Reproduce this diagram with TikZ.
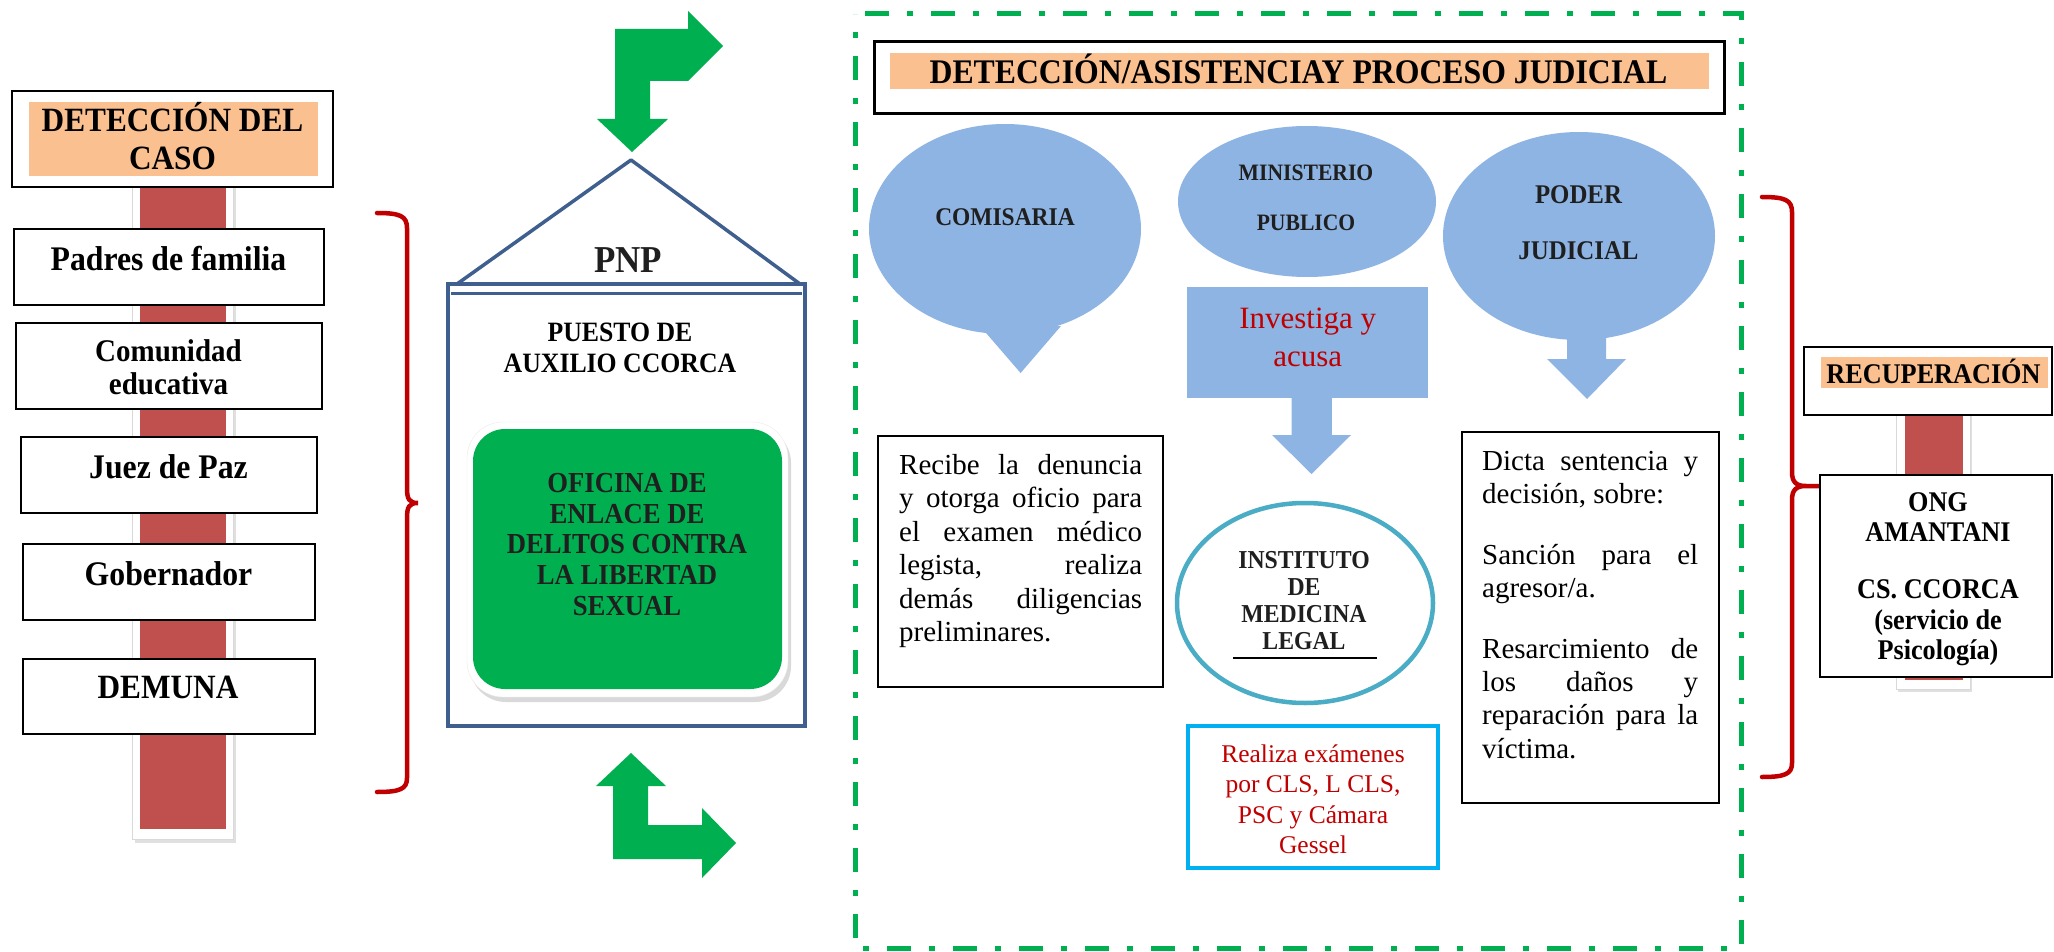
\documentclass[tikz,border=0pt]{standalone}
\usepackage{fontspec}
\setmainfont{Liberation Serif}[BoldFeatures={FakeStretch=0.92}]
\usetikzlibrary{shapes.geometric}
\definecolor{orangeT}{HTML}{FAC090}
\definecolor{barred}{HTML}{C0504D}
\definecolor{lblue}{HTML}{8EB4E3}
\definecolor{grn}{HTML}{00B050}
\definecolor{dred}{HTML}{C00000}
\definecolor{circblue}{HTML}{4BACC6}
\definecolor{cyanB}{HTML}{00B0F0}
\definecolor{housec}{HTML}{3F5F8F}
\newcommand\fs[2]{\fontsize{#1}{#2}\selectfont}
\newcommand\cbox[2]{\parbox[t]{#1}{\centering #2}}
\begin{document}
\begin{tikzpicture}[x=1pt,y=-1pt,
  txt/.style={inner sep=0pt, anchor=base},
  ltxt/.style={inner sep=0pt, anchor=base west},
  wbox/.style={draw=black, line width=2.5pt, fill=white, inner sep=0pt},
  obox/.style={fill=orangeT, inner sep=0pt},
  brace/.style={draw=dred, line width=4.5pt, line cap=round},
  garrow/.style={fill=grn},
  barw/.style={fill=white, draw=black!15, line width=1pt},
]
\useasboundingbox (0,0) rectangle (2054,952);
\fill[white] (0,0) rectangle (2054,952);

% ---------- left column ----------
\fill[black!12] (135,187) rectangle (236,843);
\draw[barw] (132,187) rectangle (233,839);
\fill[barred] (140,187) rectangle (226,829);

\node[wbox, minimum width=321pt, minimum height=96pt] (hdr) at (172.5,139) {};
\node[obox, minimum width=289pt, minimum height=74pt] (hdrbg) at (173.5,139) {};
\node[txt, font={\bfseries\fs{34}{37.5}}] (hdrt) at (172.5,132) {\cbox{320pt}{DETECCIÓN DEL\\CASO}};

\node[wbox, minimum width=310pt, minimum height=76pt] (padres) at (169,267) {};
\node[txt, font={\bfseries\fs{34.5}{38}}] (padrest) at (168.5,270.5) {Padres de familia};

\node[wbox, minimum width=306pt, minimum height=86pt] (comun) at (169,366) {};
\node[txt, font={\bfseries\fs{31.5}{33.4}}] (comunt) at (168.5,361) {\cbox{300pt}{Comunidad\\educativa}};

\node[wbox, minimum width=296pt, minimum height=76pt] (juez) at (169,475) {};
\node[txt, font={\bfseries\fs{34.5}{38}}] (juezt) at (168.5,478) {Juez de Paz};

\node[wbox, minimum width=292pt, minimum height=76pt] (gober) at (169,582) {};
\node[txt, font={\bfseries\fs{34.5}{38}}] (gobert) at (168.5,585) {Gobernador};

\node[wbox, minimum width=292pt, minimum height=75pt] (demuna) at (169,696.5) {};
\node[txt, font={\bfseries\fs{34}{38}}] (demunat) at (168,698) {DEMUNA};

\draw[brace] (377,213) .. controls (400,213) and (407,216) .. (407,228)
  -- (407,488) .. controls (407,499) and (409,503) .. (418,503)
  .. controls (409,503) and (407,507) .. (407,518)
  -- (407,778) .. controls (407,789) and (400,792) .. (377,792);

% ---------- middle (PNP) ----------
\fill[garrow] (615,29) -- (688,29) -- (688,11) -- (723,46) -- (688,81) -- (650,81)
  -- (650,119) -- (668,119) -- (632,152) -- (597,119) -- (615,119) -- cycle;

\draw[housec, line width=3.5pt, line join=round] (457,284) -- (631,160) -- (800,284);
\node[draw=housec, line width=3.5pt, minimum width=357pt, minimum height=442pt, inner sep=0pt] (house) at (626.5,505) {};
\draw[housec, line width=3pt] (451,293) -- (802,293);
\node[txt, font={\bfseries\fs{38}{40}}, text=black!88] (pnp) at (628,272.7) {PNP};
\node[txt, font={\bfseries\fs{28}{30.4}}] (puesto) at (620,341.6) {\cbox{330pt}{PUESTO DE\\AUXILIO CCORCA}};

\fill[black!15, rounded corners=36pt] (470,427) rectangle (791,702);
\draw[fill=white, draw=black!8, rounded corners=36pt] (467,422) rectangle (788,697);
\node[fill=grn, rounded corners=32pt, minimum width=309pt, minimum height=260pt, inner sep=0pt] (oficina) at (627.5,559) {};
\node[txt, font={\bfseries\fs{29}{30.7}}, text=black!88] (oficinat) at (627,492.5)
  {\cbox{300pt}{OFICINA DE\\ENLACE DE\\DELITOS CONTRA\\LA LIBERTAD\\SEXUAL}};

\fill[garrow] (631,753) -- (666,786) -- (648,786) -- (648,825) -- (702,825) -- (702,808)
  -- (736,843) -- (702,878) -- (702,859) -- (613,859) -- (613,786) -- (596,786) -- cycle;

% ---------- right frame ----------
\draw[grn, line width=5pt, dash pattern=on 24pt off 18pt on 6pt off 18pt]
  (865,14) -- (1741,14) -- (1741,948) -- (855,948) -- (855,14);

\node[draw=black, line width=3pt, minimum width=850pt, minimum height=72pt, inner sep=0pt] (title) at (1299,78) {};
\node[obox, minimum width=819pt, minimum height=36pt] (titlebg) at (1299.5,71) {};
\node[txt, font={\bfseries\fs{34.5}{36}}] (titlet) at (1298.5,83.3) {DETECCIÓN/ASISTENCIAY PROCESO JUDICIAL};

% COMISARIA callout
\node[ellipse, fill=lblue, minimum width=272pt, minimum height=210pt, inner sep=0pt] (comis) at (1005,229) {};
\fill[lblue] (980,326) -- (1061,326) -- (1020.6,373) -- cycle;
\node[txt, font={\bfseries\fs{25.5}{28}}, text=black!88] (comist) at (1005,225.7) {COMISARIA};

% MINISTERIO PUBLICO
\node[ellipse, fill=lblue, minimum width=258pt, minimum height=151pt, inner sep=0pt] (minis) at (1307,201.5) {};
\node[txt, font={\bfseries\fs{23.5}{26}}, text=black!88] (minist1) at (1306,181) {MINISTERIO};
\node[txt, font={\bfseries\fs{23.5}{26}}, text=black!88] (minist2) at (1306,231) {PUBLICO};
\node[fill=lblue, minimum width=241pt, minimum height=111pt, inner sep=0pt] (invest) at (1307.5,342.5) {};
\node[txt, font={\fs{31}{38}}, text=dred] (investt) at (1307.7,328.3) {\cbox{230pt}{Investiga y\\acusa}};
\fill[lblue] (1291.6,397) -- (1331.8,397) -- (1331.8,435) -- (1351,435) -- (1311.5,474)
  -- (1272,435) -- (1291.6,435) -- cycle;

% PODER JUDICIAL callout
\node[ellipse, fill=lblue, minimum width=272pt, minimum height=208pt, inner sep=0pt] (poder) at (1579,236) {};
\fill[lblue] (1567,330) -- (1606,330) -- (1606,359) -- (1626,359) -- (1587,399)
  -- (1547,359) -- (1567,359) -- cycle;
\node[txt, font={\bfseries\fs{27}{30}}, text=black!88] (podert1) at (1578.5,204) {PODER};
\node[txt, font={\bfseries\fs{27}{30}}, text=black!88] (podert2) at (1578.5,260) {JUDICIAL};

% Recibe box
\node[wbox, minimum width=285pt, minimum height=251pt] (recibe) at (1020.5,561.5) {};
\node[ltxt, font={\fs{29}{33.5}}] (recibet) at (899,474) {\parbox[t]{243pt}{%
  \hbox to 243pt{Recibe\hfill la\hfill denuncia}%
  \hbox to 243pt{y\hfill otorga\hfill oficio\hfill para}%
  \hbox to 243pt{el\hfill examen\hfill médico}%
  \hbox to 243pt{legista,\hfill realiza}%
  \hbox to 243pt{demás\hfill diligencias}%
  \hbox{preliminares.}}};

% Instituto
\node[ellipse, draw=circblue, line width=4.5pt, fill=white, minimum width=256pt, minimum height=200pt, inner sep=0pt] (inst) at (1305,603) {};
\node[txt, font={\bfseries\fs{25.8}{27.3}}, text=black!88] (instt) at (1304,568)
  {\cbox{200pt}{INSTITUTO\\DE\\MEDICINA\\LEGAL}};
\draw[black, line width=2pt] (1233,658) -- (1377,658);

% Realiza box
\node[draw=cyanB, line width=4.5pt, fill=white, minimum width=250pt, minimum height=142pt, inner sep=0pt] (realiza) at (1313,797) {};
\node[txt, font={\fs{25.5}{30.5}}, text=dred] (realizat) at (1313,762)
  {\cbox{240pt}{Realiza exámenes\\por CLS, L CLS,\\PSC y Cámara\\Gessel}};

% Dicta box
\node[wbox, minimum width=257pt, minimum height=371pt] (dicta) at (1590.5,617.5) {};
\node[ltxt, font={\fs{29}{33.2}}] (dictat) at (1482,470) {\parbox[t]{216pt}{%
  \hbox to 216pt{Dicta\hfill sentencia\hfill y}%
  \hbox{decisión, sobre:}%
  \vskip 27.8pt
  \hbox to 216pt{Sanción\hfill para\hfill el}%
  \hbox{agresor/a.}%
  \vskip 27.8pt
  \hbox to 216pt{Resarcimiento\hfill de}%
  \hbox to 216pt{los\hfill daños\hfill y}%
  \hbox to 216pt{reparación\hfill para\hfill la}%
  \hbox{víctima.}}};

% right brace
\draw[brace] (1762,197) .. controls (1785,197) and (1792,200) .. (1792,212)
  -- (1792,472) .. controls (1792,482) and (1796,486) .. (1806,486) -- (1819,486)
  -- (1806,486) .. controls (1796,486) and (1792,490) .. (1792,500)
  -- (1792,763) .. controls (1792,774) and (1785,777) .. (1762,777);

% ---------- recovery column ----------
\fill[black!12] (1898,415) rectangle (1972,692);
\draw[barw] (1896,415) rectangle (1970,689);
\fill[barred] (1905,415) rectangle (1963,680);

\node[wbox, minimum width=248pt, minimum height=68pt] (recup) at (1928,381) {};
\node[obox, minimum width=227pt, minimum height=31pt] (recupbg) at (1934.5,372.5) {};
\node[txt, font={\bfseries\fs{28.5}{30}}] (recupt) at (1933.5,383) {RECUPERACIÓN};

\node[wbox, minimum width=232pt, minimum height=202pt] (ong) at (1936,576) {};
\node[txt, font={\bfseries\fs{28.5}{30.7}}] (ongt) at (1938,511) {\parbox[t]{220pt}{\centering
  ONG\\AMANTANI\par\vskip 26pt CS. CCORCA\\(servicio de\\Psicología)}};
\end{tikzpicture}
\end{document}
